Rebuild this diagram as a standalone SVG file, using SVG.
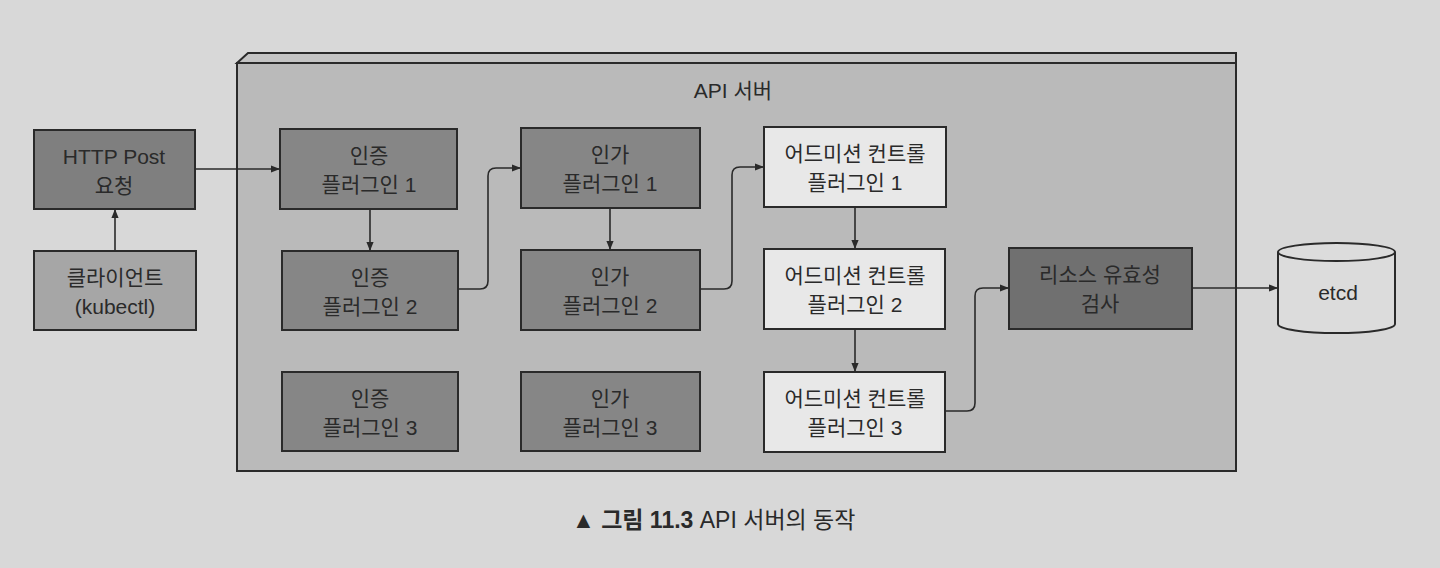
<svg xmlns="http://www.w3.org/2000/svg" width="1440" height="568" viewBox="0 0 1440 568">
<style>
.t{font-family:"Liberation Sans","Noto Sans CJK KR",sans-serif;font-size:21px;fill:#2a2a2a;text-anchor:middle}
.b{stroke:#2a2a2a;stroke-width:2}
.dark{fill:#868686}
.mid{fill:#a6a6a6}
.light{fill:#e8e8e8}
.c{fill:none;stroke:#2a2a2a;stroke-width:1.6}
</style>
<defs>
<marker id="ah" viewBox="0 0 10 10" refX="10" refY="5" markerWidth="9" markerHeight="9" markerUnits="userSpaceOnUse" orient="auto">
<path d="M0,1 L10,5 L0,9 z" fill="#2a2a2a"/>
</marker>
</defs>
<rect width="1440" height="568" fill="#d8d8d8"/>
<g id="api-server">
<path d="M237,63 L248,53 L1236,53 L1236,63 Z" fill="#c4c4c4" class="b"/>
<rect x="237" y="63" width="999" height="408" fill="#bababa" class="b"/>
<text class="t" x="733" y="98">API 서버</text>
</g>
<g id="http-post">
<rect x="34" y="130" width="161" height="79" fill="#7f7f7f" class="b"/>
<text class="t" x="114" y="164">HTTP Post</text>
<text class="t" x="114" y="193">요청</text>
</g>
<g id="client">
<rect x="34" y="251" width="162" height="79" class="mid b"/>
<text class="t" x="115" y="285">클라이언트</text>
<text class="t" x="115" y="314">(kubectl)</text>
</g>
<g id="authn1">
<rect x="280" y="129" width="177" height="80" class="dark b"/>
<text class="t" x="369" y="163">인증</text>
<text class="t" x="369" y="192">플러그인 1</text>
</g>
<g id="authn2">
<rect x="282" y="251" width="176" height="79" class="dark b"/>
<text class="t" x="370" y="285">인증</text>
<text class="t" x="370" y="314">플러그인 2</text>
</g>
<g id="authn3">
<rect x="282" y="372" width="176" height="79" class="dark b"/>
<text class="t" x="370" y="406">인증</text>
<text class="t" x="370" y="435">플러그인 3</text>
</g>
<g id="authz1">
<rect x="521" y="128" width="179" height="80" class="dark b"/>
<text class="t" x="610" y="162">인가</text>
<text class="t" x="610" y="191">플러그인 1</text>
</g>
<g id="authz2">
<rect x="521" y="250" width="179" height="80" class="dark b"/>
<text class="t" x="610" y="284">인가</text>
<text class="t" x="610" y="313">플러그인 2</text>
</g>
<g id="authz3">
<rect x="521" y="372" width="179" height="79" class="dark b"/>
<text class="t" x="610" y="406">인가</text>
<text class="t" x="610" y="435">플러그인 3</text>
</g>
<g id="admission1">
<rect x="764" y="127" width="182" height="80" class="light b"/>
<text class="t" x="855" y="161">어드미션 컨트롤</text>
<text class="t" x="855" y="190">플러그인 1</text>
</g>
<g id="admission2">
<rect x="764" y="249" width="181" height="80" class="light b"/>
<text class="t" x="855" y="283">어드미션 컨트롤</text>
<text class="t" x="855" y="312">플러그인 2</text>
</g>
<g id="admission3">
<rect x="764" y="372" width="181" height="80" class="light b"/>
<text class="t" x="855" y="406">어드미션 컨트롤</text>
<text class="t" x="855" y="435">플러그인 3</text>
</g>
<g id="resource-validation">
<rect x="1009" y="248" width="183" height="81" fill="#707070" class="b"/>
<text class="t" x="1100" y="282">리소스 유효성</text>
<text class="t" x="1100" y="311">검사</text>
</g>
<g id="etcd">
<path d="M1278,252 L1278,324 A58,9 0 0 0 1395,324 L1395,252" fill="#dcdcdc" class="b"/>
<ellipse cx="1336.5" cy="252" rx="58.5" ry="9" fill="#dcdcdc" class="b"/>
<text class="t" x="1338" y="300">etcd</text>
</g>
<g id="connectors">
<path class="c" d="M195,169 L280,169" marker-end="url(#ah)"/>
<path class="c" d="M115,251 L115,209" marker-end="url(#ah)"/>
<path class="c" d="M370,209 L370,251" marker-end="url(#ah)"/>
<path class="c" d="M458,289 L480,289 Q488,289 488,281 L488,176 Q488,168 496,168 L521,168" marker-end="url(#ah)"/>
<path class="c" d="M610,208 L610,250" marker-end="url(#ah)"/>
<path class="c" d="M700,289 L724,289 Q732,289 732,281 L732,175 Q732,167 740,167 L764,167" marker-end="url(#ah)"/>
<path class="c" d="M855,207 L855,249" marker-end="url(#ah)"/>
<path class="c" d="M855,329 L855,372" marker-end="url(#ah)"/>
<path class="c" d="M945,411 L967,411 Q975,411 975,403 L975,296 Q975,288 983,288 L1009,288" marker-end="url(#ah)"/>
<path class="c" d="M1192,288 L1278,288" marker-end="url(#ah)"/>
</g>
<g id="caption">
<text x="572" y="528" style="font-family:'Liberation Sans','Noto Sans CJK KR',sans-serif;font-size:23px;fill:#2a2a2a">▲ <tspan font-weight="bold">그림 11.3</tspan> API 서버의 동작</text>
</g>
</svg>
